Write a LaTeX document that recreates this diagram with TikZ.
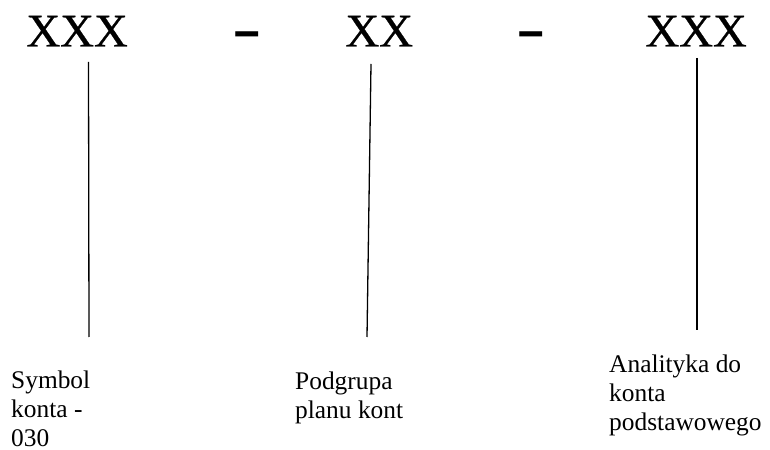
\documentclass[tikz,border=0pt]{standalone}
\usepackage{fontspec}
\usepackage{graphicx}
\setmainfont{Liberation Serif}
\newfontfamily\codefont[FakeBold=0.6]{Liberation Serif}
\begin{document}
\begin{tikzpicture}[x=1bp,y=-1bp,
  code/.style={inner sep=0pt,anchor=base west,font=\codefont\fontsize{47}{56}\selectfont},
  sep/.style={inner sep=0pt,anchor=base west,font=\fontsize{69}{80}\selectfont},
  caption/.style={inner sep=0pt,anchor=north west,align=left,
    font=\fontsize{25.5}{29}\selectfont},
  lead/.style={line width=1.3bp,black}]
  % page frame
  \fill[white] (0,0) rectangle (770,450);
  \useasboundingbox (0,0) rectangle (770,450);

  % account number pattern
  \node[code] (grp) at (26.2,46.5) {XXX};
  \node[sep]  (d1)  at (232.3,51) {\scalebox{1.28}[1]{-}};
  \node[code] (sub) at (345.2,46.5) {XX};
  \node[sep]  (d2)  at (516.3,51) {\scalebox{1.28}[1]{-}};
  \node[code] (ana) at (645.2,46.5) {XXX};

  % descriptions
  \node[caption] (cgrp) at (11,371) {Symbol\\konta -\\030};
  \node[caption] (csub) at (295,371.6) {Podgrupa\\planu kont};
  \node[caption] (cana) at (609,354.6) {Analityka do\\konta\\podstawowego};

  % leader lines ends
  \coordinate (t1) at (88.5,62);
  \coordinate (b1) at (89,337);
  \coordinate (t2) at (371,64);
  \coordinate (b2) at (367,337);
  \coordinate (t3) at (697,58);
  \coordinate (b3) at (697,330);

  \draw[lead] (t1) -- (b1);
  \draw[lead] (t2) -- (b2);
  \draw[lead] (t3) -- (b3);
\end{tikzpicture}
\end{document}
